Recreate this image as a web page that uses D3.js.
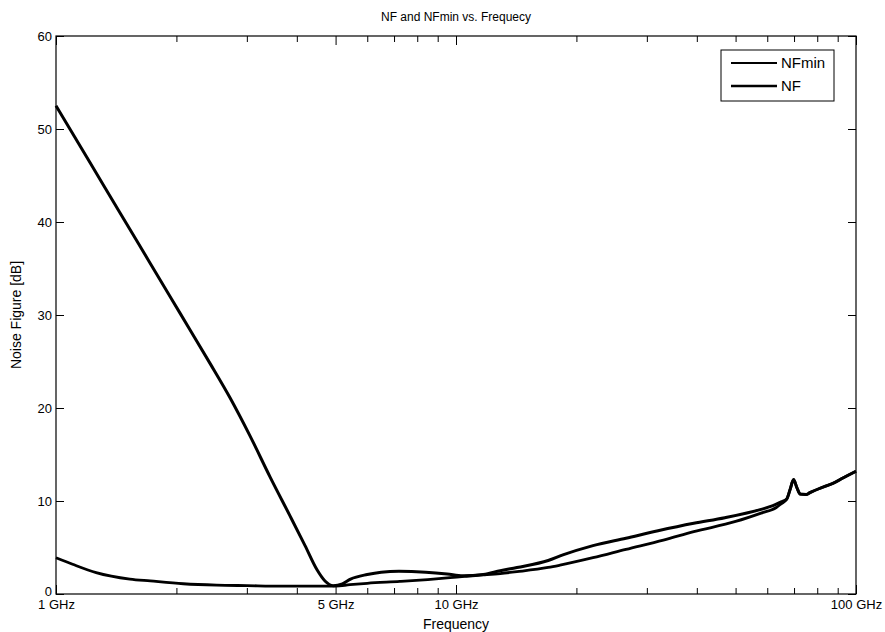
<!DOCTYPE html>
<html>
<head>
<meta charset="utf-8">
<script src="https://cdn.jsdelivr.net/npm/d3@7"></script>
<style>
  html, body { margin: 0; padding: 0; background: #fff; }
  svg { display: block; font-family: "Liberation Sans", Arial, sans-serif; }
</style>
</head>
<body>
<svg id="chart" width="885" height="632"></svg>
<script>
// ---- data (GHz, dB) ----
const freqNF = [1, 1.216, 1.445, 1.718, 2.042, 2.427, 2.723, 3.055, 3.428, 3.846, 4.194, 4.493, 4.704, 4.93, 5.2, 5.45, 6.0, 6.5, 7.2, 8.4, 9.5, 10.4, 11.7, 12.9, 14.2, 17.0, 18.5, 22.0, 26.6, 32.0, 39.3, 47.0, 57.9, 62.0, 65.0, 67.1, 68.5, 69.8, 71.2, 72.5, 75.1, 76.7, 82.8, 87.6, 93.0, 100];
const nfValues = [52.5, 46.4, 41.0, 35.6, 30.2, 24.8, 21.1, 17.0, 12.6, 8.4, 5.2, 2.6, 1.4, 0.9, 1.1, 1.6, 2.1, 2.35, 2.45, 2.35, 2.15, 1.95, 2.1, 2.5, 2.85, 3.6, 4.2, 5.2, 6.0, 6.8, 7.6, 8.2, 9.1, 9.5, 9.9, 10.2, 11.3, 12.3, 11.4, 10.75, 10.7, 10.9, 11.5, 11.9, 12.5, 13.2];

const freqNFmin = [1, 1.1, 1.26, 1.53, 1.72, 2.08, 2.52, 3.0, 3.68, 4.47, 5.0, 5.43, 6.0, 7.24, 8.5, 9.66, 10.5, 11.7, 12.9, 14.2, 17.0, 18.2, 22.0, 26.6, 33.0, 39.3, 50.0, 57.9, 63.2, 65.0, 67.1, 68.5, 69.8, 71.2, 72.5, 75.1, 76.7, 82.8, 87.6, 93.0, 100];
const nfminValues = [3.9, 3.2, 2.3, 1.6, 1.4, 1.1, 0.95, 0.9, 0.85, 0.85, 0.85, 1.0, 1.15, 1.35, 1.55, 1.75, 1.9, 2.05, 2.2, 2.4, 2.85, 3.1, 3.9, 4.8, 5.8, 6.7, 7.8, 8.7, 9.3, 9.7, 10.2, 11.3, 12.3, 11.4, 10.75, 10.7, 10.9, 11.5, 11.9, 12.5, 13.2];

const xTickLabelsVals = [1, 5, 10, 100];
const xTickLabels = ["1 GHz", "5 GHz", "10 GHz", "100 GHz"];
const xMinorTicks = [2, 3, 4, 6, 7, 8, 9, 20, 30, 40, 50, 60, 70, 80, 90];
const yTicks = [0, 10, 20, 30, 40, 50, 60];
const seriesNames = ["NFmin", "NF"];

// ---- layout ----
const svg = d3.select("#chart");
const L = 56, R = 856, T = 36, B = 594;
const FONT = '"Liberation Sans", Arial, sans-serif';

const x = d3.scaleLog().domain([1, 100]).range([L, R]);
const y = d3.scaleLinear().domain([0, 60]).range([B, T]);

const ink = "#000";

// frame
svg.append("rect")
  .attr("x", L).attr("y", T).attr("width", R - L).attr("height", B - T)
  .attr("fill", "none").attr("stroke", ink).attr("stroke-width", 1.2);

// x axis bottom: minor ticks
svg.append("g").attr("transform", `translate(0,${B})`)
  .call(d3.axisBottom(x).tickValues(xMinorTicks).tickSize(-6).tickFormat(""))
  .call(g => g.select(".domain").remove());
// x axis bottom: major ticks with labels
svg.append("g").attr("transform", `translate(0,${B})`)
  .call(d3.axisBottom(x).tickValues(xTickLabelsVals).tickSize(-9).tickPadding(6)
    .tickFormat((d, i) => xTickLabels[i]))
  .call(g => g.select(".domain").remove())
  .call(g => g.selectAll("text").attr("font-size", 13).attr("fill", ink).attr("font-family", FONT));
// x axis top ticks
svg.append("g").attr("transform", `translate(0,${T})`)
  .call(d3.axisTop(x).tickValues(xMinorTicks).tickSize(-6).tickFormat(""))
  .call(g => g.select(".domain").remove());
svg.append("g").attr("transform", `translate(0,${T})`)
  .call(d3.axisTop(x).tickValues(xTickLabelsVals).tickSize(-9).tickFormat(""))
  .call(g => g.select(".domain").remove());

// y axis left
svg.append("g").attr("transform", `translate(${L},0)`)
  .call(d3.axisLeft(y).tickValues(yTicks).tickSize(-8).tickPadding(4).tickFormat(d3.format("d")))
  .call(g => g.select(".domain").remove())
  .call(g => g.selectAll("text").attr("font-size", 13).attr("fill", ink).attr("font-family", FONT)
    .attr("dy", d => d === 0 ? "0.1em" : "0.32em"));
// y axis right ticks
svg.append("g").attr("transform", `translate(${R},0)`)
  .call(d3.axisRight(y).tickValues(yTicks).tickSize(-8).tickFormat(""))
  .call(g => g.select(".domain").remove());

svg.selectAll(".tick line").attr("stroke", ink).attr("stroke-width", 1);

// lines
const line = d3.line().x(d => x(d[0])).y(d => y(d[1])).curve(d3.curveMonotoneX);
const nfData = freqNF.map((f, i) => [f, nfValues[i]]);
const nfminData = freqNFmin.map((f, i) => [f, nfminValues[i]]);

svg.append("path").datum(nfminData).attr("d", line)
  .attr("fill", "none").attr("stroke", ink).attr("stroke-width", 2.8).attr("stroke-linejoin", "round");
svg.append("path").datum(nfData).attr("d", line)
  .attr("fill", "none").attr("stroke", ink).attr("stroke-width", 3).attr("stroke-linejoin", "round");

// titles
svg.append("text").attr("x", (L + R) / 2).attr("y", 21).attr("text-anchor", "middle")
  .attr("font-size", 12).attr("fill", ink).text("NF and NFmin vs. Frequecy");
svg.append("text").attr("x", (L + R) / 2).attr("y", 629).attr("text-anchor", "middle")
  .attr("font-size", 14).attr("fill", ink).text("Frequency");
svg.append("text").attr("transform", `translate(21,${(T + B) / 2}) rotate(-90)`)
  .attr("text-anchor", "middle").attr("font-size", 14).attr("fill", ink).text("Noise Figure [dB]");

// legend
const lg = svg.append("g").attr("transform", "translate(721,50)");
lg.append("rect").attr("width", 113).attr("height", 51)
  .attr("fill", "#fff").attr("stroke", ink).attr("stroke-width", 1);
seriesNames.forEach((name, i) => {
  const yy = 13 + i * 23;
  lg.append("line").attr("x1", 10).attr("x2", 56).attr("y1", yy).attr("y2", yy)
    .attr("stroke", ink).attr("stroke-width", i === 0 ? 2 : 2.5);
  lg.append("text").attr("x", 60).attr("y", yy + 5).attr("font-size", 15)
    .attr("fill", ink).text(name);
});
</script>
</body>
</html>
